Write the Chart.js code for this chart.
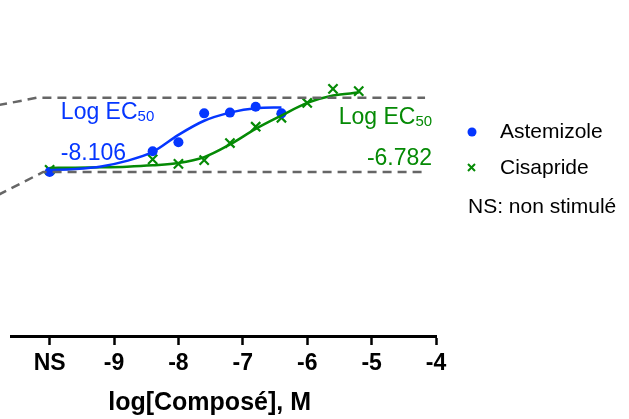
<!DOCTYPE html>
<html>
<head>
<meta charset="utf-8">
<script src="https://cdn.jsdelivr.net/npm/chart.js@4.4.1/dist/chart.umd.min.js"></script>
<style>
html,body{margin:0;padding:0;background:#fff;}
#wrap{width:629px;height:419px;}
</style>
</head>
<body>
<div id="wrap"><canvas id="chart" width="629" height="419"></canvas></div>
<script>
// x values are log10 of concentration; -10 is the unstimulated control (NS)
const tickValues = [-10, -9, -8, -7, -6, -5, -4];
const tickLabels = ["NS", "-9", "-8", "-7", "-6", "-5", "-4"];

const astemizoleX = [-10, -8.4, -8.0, -7.6, -7.2, -6.8, -6.4];
const astemizoleY = [0, 28, 40, 79, 80, 88, 79];
const cisaprideX = [-10, -8.4, -8.0, -7.6, -7.2, -6.8, -6.4, -6.0, -5.6, -5.2];
const cisaprideY = [3, 17, 11, 16, 39, 61, 73, 93, 112, 109];

// fitted curves
const astemizoleFitX = [-10, -9.6, -9.2, -8.8, -8.4, -8.0, -7.6, -7.2, -6.8, -6.4];
const astemizoleFitY = [2.5, 4, 7.5, 15, 27, 50, 69, 80, 86, 87];
const cisaprideFitX = [-10, -9.6, -9.2, -8.8, -8.4, -8.0, -7.6, -7.2, -6.8, -6.4, -6.0, -5.6, -5.2];
const cisaprideFitY = [5.5, 5.8, 6.3, 7.2, 9, 12, 20, 37, 58, 76, 93, 103, 107];

// dashed reference lines (min / max levels)
const topRefX = [-10.8, -10.2, -4.17];
const topRefY = [90, 100, 100];
const bottomRefX = [-10.8, -10.1, -4.17];
const bottomRefY = [-31, 0, 0];

const ec50Astemizole = "-8.106";
const ec50Cisapride = "-6.782";

const BLUE = "#0536ff";
const GREEN = "#058a05";
const FONT = "'Liberation Sans', Arial, sans-serif";

function pts(xs, ys){
    return xs.map((x, i) => ({x: x, y: ys[i]}));
}

const annotations = {
    id: "annotations",
    afterDatasetsDraw(chart){
        const ctx = chart.ctx;
        const xs = chart.scales.x, ys = chart.scales.y;
        ctx.save();
        ctx.textBaseline = "alphabetic";
        function ecLabel(x, y, color, align, value){
            ctx.fillStyle = color;
            let main = "Log EC";
            ctx.font = "23px " + FONT;
            let wMain = ctx.measureText(main).width;
            ctx.font = "15px " + FONT;
            let wSub = ctx.measureText("50").width;
            let left = align === "left" ? x : x - wMain - wSub;
            ctx.font = "23px " + FONT;
            ctx.textAlign = "left";
            ctx.fillText(main, left, y);
            ctx.font = "15px " + FONT;
            ctx.fillText("50", left + wMain, y + 2);
            ctx.font = "23px " + FONT;
            ctx.textAlign = align;
            ctx.fillText(value, x, y + 41);
        }
        ecLabel(xs.getPixelForValue(-9.826), ys.getPixelForValue(72), BLUE, "left", ec50Astemizole);
        ecLabel(xs.getPixelForValue(-4.06), ys.getPixelForValue(65), GREEN, "right", ec50Cisapride);

        // legend
        const lx = chart.chartArea.right;
        ctx.fillStyle = BLUE;
        ctx.beginPath();
        ctx.arc(lx + 36, 132, 4.5, 0, Math.PI * 2);
        ctx.fill();
        ctx.strokeStyle = GREEN;
        ctx.lineWidth = 2;
        ctx.beginPath();
        ctx.moveTo(lx + 32, 164); ctx.lineTo(lx + 39, 171);
        ctx.moveTo(lx + 39, 164); ctx.lineTo(lx + 32, 171);
        ctx.stroke();
        ctx.fillStyle = "#000";
        ctx.textAlign = "left";
        ctx.textBaseline = "middle";
        ctx.font = "21px " + FONT;
        ctx.fillText("Astemizole", lx + 64, 132);
        ctx.fillText("Cisapride", lx + 64, 168);
        ctx.fillText("NS: non stimulé", lx + 32, 207);
        ctx.restore();
    }
};

const refStyle = {
    type: "line", borderColor: "#666", borderWidth: 2.5, borderDash: [9, 6],
    pointRadius: 0, fill: false, clip: false, tension: 0
};

new Chart(document.getElementById("chart").getContext("2d"), {
    type: "line",
    data: {
        datasets: [
            Object.assign({label: "max", data: pts(topRefX, topRefY)}, refStyle),
            Object.assign({label: "min", data: pts(bottomRefX, bottomRefY)}, refStyle),
            {label: "Astemizole fit", data: pts(astemizoleFitX, astemizoleFitY), borderColor: BLUE,
             borderWidth: 2.5, pointRadius: 0, cubicInterpolationMode: "monotone", fill: false},
            {label: "Cisapride fit", data: pts(cisaprideFitX, cisaprideFitY), borderColor: GREEN,
             borderWidth: 2.5, pointRadius: 0, cubicInterpolationMode: "monotone", fill: false},
            {label: "Astemizole", data: pts(astemizoleX, astemizoleY), showLine: false,
             pointStyle: "circle", pointRadius: 5, backgroundColor: BLUE, borderColor: BLUE, borderWidth: 0},
            {label: "Cisapride", data: pts(cisaprideX, cisaprideY), showLine: false,
             pointStyle: "crossRot", pointRadius: 6.5, borderColor: GREEN, borderWidth: 2.2}
        ]
    },
    options: {
        responsive: false,
        animation: false,
        layout: {padding: {left: 11, right: 193, top: 0, bottom: 0}},
        plugins: {legend: {display: false}, tooltip: {enabled: false}},
        scales: {
            x: {
                type: "linear", min: -10.6, max: -4,
                afterBuildTicks(scale){ scale.ticks = tickValues.map(v => ({value: v})); },
                afterFit(scale){ scale.height = 83; },
                ticks: {
                    callback: (v) => tickLabels[tickValues.indexOf(v)],
                    color: "#000", font: {family: FONT, size: 23, weight: "bold"},
                    padding: 5, maxRotation: 0, autoSkip: false
                },
                grid: {drawOnChartArea: false, drawTicks: true, tickLength: 9, tickWidth: 2.5, color: "#000"},
                border: {color: "#000", width: 3},
                // trailing spaces shift the centred title a little to the left, as in the original
                title: {display: true, text: "log[Composé], M    ", color: "#000",
                        font: {family: FONT, size: 25, weight: "bold"}, padding: {top: 2, bottom: 1}}
            },
            y: {display: false, min: -221, max: 220}
        }
    },
    plugins: [annotations]
});
</script>
</body>
</html>
